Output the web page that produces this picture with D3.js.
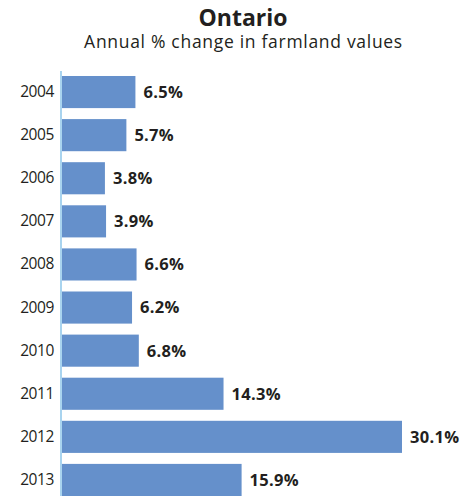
<!DOCTYPE html>
<html>
<head>
<meta charset="utf-8">
<script src="https://cdn.jsdelivr.net/npm/d3@7"></script>
<style>
  html, body { margin: 0; padding: 0; background: #fff; }
  svg { display: block; }
</style>
</head>
<body>
<svg id="chart" width="471" height="496"></svg>
<script>
const years = ["2004","2005","2006","2007","2008","2009","2010","2011","2012","2013"];
const values = [6.5, 5.7, 3.8, 3.9, 6.6, 6.2, 6.8, 14.3, 30.1, 15.9];
const title = "Ontario";
const subtitle = "Annual % change in farmland values";

const svg = d3.select("#chart");
const font = "'Open Sans', 'Noto Sans', sans-serif";
const x0 = 62;
const x = d3.scaleLinear().domain([0, 30.1]).range([x0, 402]);
const y = d3.scaleBand().domain(years).range([70.5, 501.5]).paddingInner(0.255).paddingOuter(0.1275);

svg.append("text").attr("x", 243).attr("y", 25.5).attr("text-anchor", "middle")
  .attr("font-family", font).attr("font-weight", "bold").attr("font-size", 23)
  .attr("fill", "#231f20").text(title);
svg.append("text").attr("x", 243.5).attr("y", 47.5).attr("text-anchor", "middle")
  .attr("font-family", font).attr("font-size", 17.5).attr("letter-spacing", 0.7)
  .attr("fill", "#231f20").text(subtitle);

const data = years.map((yr, i) => ({ yr, v: values[i] }));

svg.selectAll("rect.bar").data(data).enter().append("rect")
  .attr("class", "bar")
  .attr("x", x(0))
  .attr("y", d => y(d.yr))
  .attr("width", d => x(d.v) - x(0))
  .attr("height", y.bandwidth())
  .attr("fill", "#6590cb");

svg.selectAll("text.val").data(data).enter().append("text")
  .attr("class", "val")
  .attr("x", d => x(d.v) + 8)
  .attr("y", d => y(d.yr) + y.bandwidth() / 2)
  .attr("dy", "0.36em")
  .attr("font-family", font).attr("font-weight", "bold").attr("font-size", 16.5)
  .attr("letter-spacing", 0.3)
  .attr("fill", "#231f20")
  .text(d => d.v.toFixed(1) + "%");

const axis = d3.axisLeft(y).tickSize(0).tickPadding(7);
const g = svg.append("g").attr("transform", `translate(${x0 - 1},0)`).call(axis);
g.select(".domain").remove();
g.selectAll("text").attr("font-family", font).attr("font-size", 15.5)
  .attr("letter-spacing", -0.4).attr("fill", "#231f20");
svg.append("line").attr("x1", x0 - 1).attr("x2", x0 - 1).attr("y1", 71).attr("y2", 496)
  .attr("stroke", "#a9d4ef").attr("stroke-width", 2);
</script>
</body>
</html>
